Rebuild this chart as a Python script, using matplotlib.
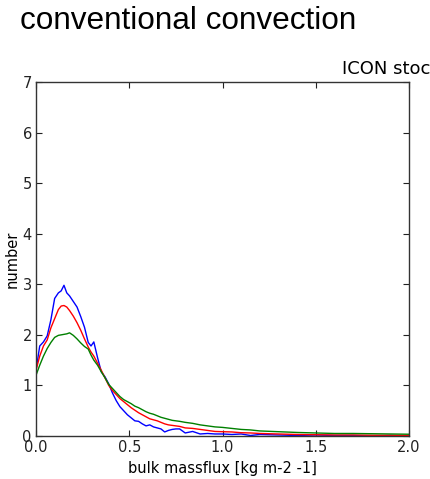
import matplotlib
matplotlib.use("Agg")
import matplotlib.pyplot as plt

massflux = [0.0, 0.02, 0.04, 0.06, 0.08, 0.10, 0.12, 0.135, 0.15, 0.165, 0.18, 0.20, 0.22, 0.24, 0.26, 0.28,
            0.295, 0.31, 0.33, 0.35, 0.37, 0.39, 0.41, 0.43, 0.45, 0.47, 0.49, 0.51, 0.53, 0.55, 0.57, 0.59,
            0.61, 0.63, 0.65, 0.67, 0.69, 0.71, 0.73, 0.75, 0.77, 0.80, 0.84, 0.88, 0.92, 0.96, 1.0, 1.05,
            1.1, 1.15, 1.2, 1.3, 1.4, 1.5, 1.6, 1.7, 1.8, 1.9, 2.0]

blue_vals = [1.30, 1.78, 1.86, 1.98, 2.30, 2.72, 2.83, 2.87, 2.98, 2.83, 2.77, 2.66, 2.55, 2.36, 2.15, 1.85,
             1.78, 1.86, 1.55, 1.27, 1.17, 1.03, 0.85, 0.70, 0.58, 0.50, 0.42, 0.36, 0.30, 0.29, 0.24, 0.20,
             0.22, 0.18, 0.16, 0.14, 0.08, 0.11, 0.13, 0.14, 0.14, 0.06, 0.09, 0.04, 0.05, 0.04, 0.04, 0.03,
             0.04, 0.01, 0.03, 0.02, 0.01, 0.02, 0.01, 0.01, 0.00, 0.01, 0.00]

red_vals = [1.30, 1.58, 1.78, 1.90, 2.14, 2.32, 2.50, 2.57, 2.58, 2.55, 2.48, 2.37, 2.24, 2.09, 1.92, 1.76,
            1.66, 1.58, 1.44, 1.30, 1.15, 1.00, 0.90, 0.82, 0.74, 0.68, 0.62, 0.56, 0.51, 0.46, 0.42, 0.38,
            0.34, 0.32, 0.30, 0.27, 0.24, 0.22, 0.21, 0.20, 0.19, 0.16, 0.15, 0.13, 0.11, 0.09, 0.085, 0.08,
            0.065, 0.06, 0.05, 0.04, 0.03, 0.025, 0.02, 0.02, 0.015, 0.015, 0.01]

green_vals = [1.20, 1.40, 1.58, 1.73, 1.85, 1.95, 1.99, 2.00, 2.01, 2.02, 2.04, 1.99, 1.92, 1.84, 1.77, 1.72,
              1.60, 1.50, 1.40, 1.27, 1.15, 1.02, 0.94, 0.86, 0.78, 0.72, 0.68, 0.64, 0.59, 0.56, 0.52, 0.48,
              0.45, 0.43, 0.40, 0.37, 0.35, 0.33, 0.31, 0.30, 0.29, 0.27, 0.25, 0.22, 0.20, 0.18, 0.17, 0.15,
              0.13, 0.12, 0.10, 0.085, 0.07, 0.06, 0.05, 0.05, 0.045, 0.04, 0.035]

x_ticks = [0.0, 0.5, 1.0, 1.5, 2.0]
x_ticklabels = ["0.0", "0.5", "1.0", "1.5", "2.0"]
y_ticks = [0, 1, 2, 3, 4, 5, 6, 7]

fig = plt.figure(figsize=(4.30, 4.79), dpi=100)
ax = fig.add_axes([36/430, 1-436/479, (409-36)/430, (436-82)/479])

ax.plot(massflux, blue_vals, color="blue", lw=1.0)
ax.plot(massflux, red_vals, color="red", lw=1.0)
ax.plot(massflux, green_vals, color="green", lw=1.0)

ax.set_xlim(0, 2.0)
ax.set_ylim(0, 7)
ax.set_xticks(x_ticks)
ax.set_xticklabels(x_ticklabels)
ax.set_yticks(y_ticks)
ax.tick_params(direction="in", top=True, right=True, length=4, width=0.8,
               labelsize=10.5, colors="#222222", pad=3)
for s in ax.spines.values():
    s.set_color("#333333")
    s.set_linewidth(1.0)

ax.set_xlabel("bulk massflux [kg m-2 -1]", fontsize=10.5, labelpad=4)
ax.set_ylabel("number", fontsize=10.5, labelpad=2)

fig.text(20/430, 1-21/479, "conventional convection", fontsize=22.7,
         family="Liberation Sans", ha="left", va="center")
fig.text(342/430, 1-69/479, "ICON stochastic", fontsize=13, ha="left", va="center")

fig.savefig("out.png", dpi=100)
